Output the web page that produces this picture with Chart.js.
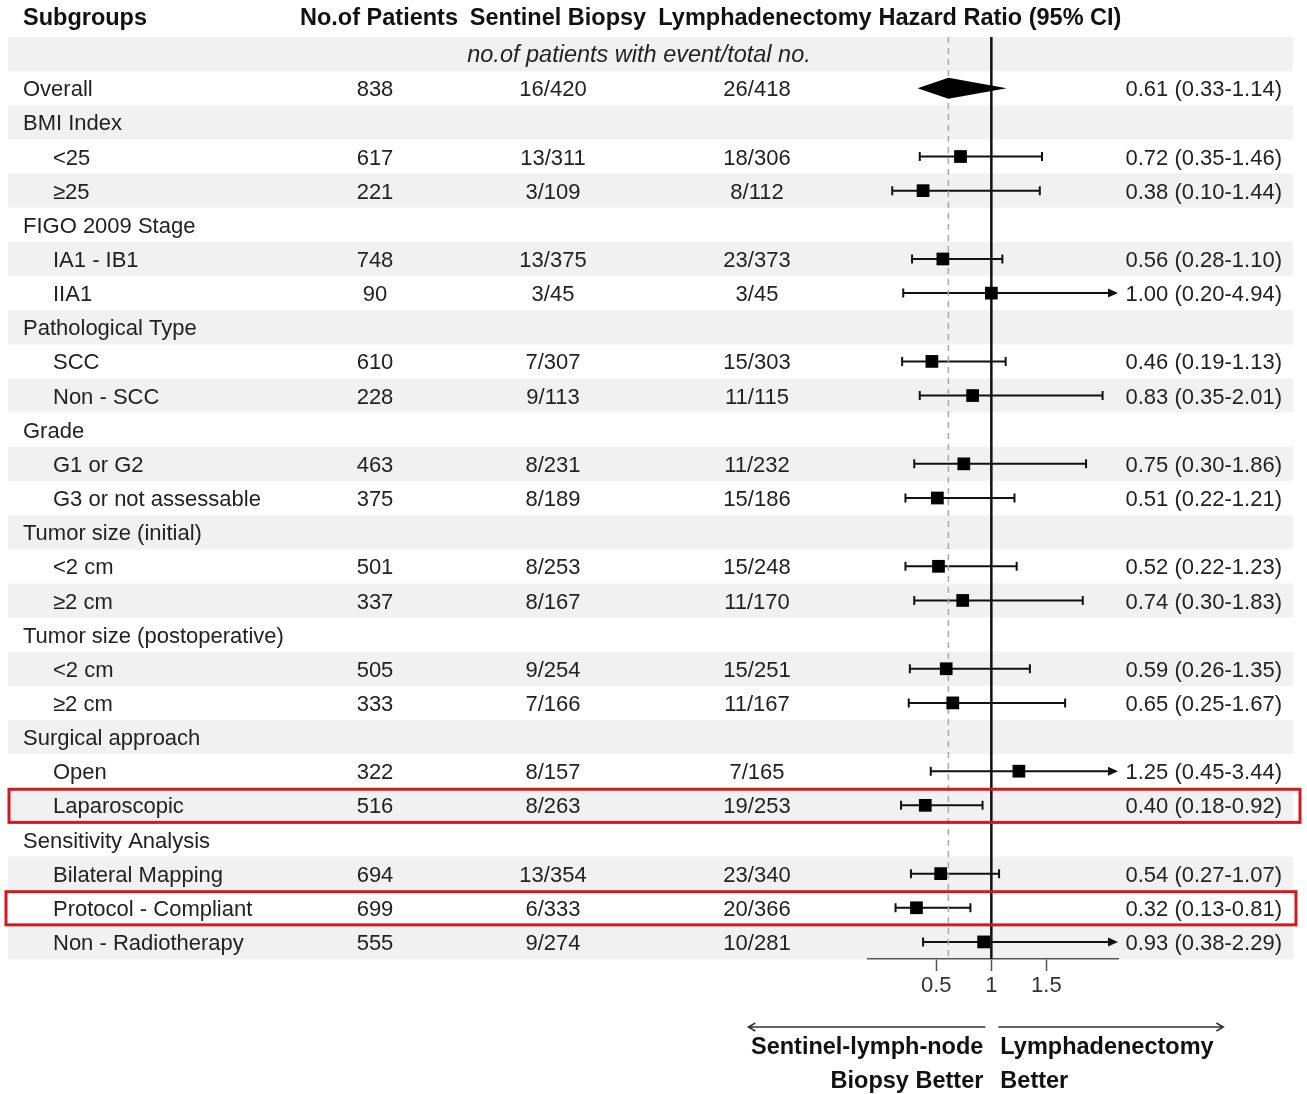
<!DOCTYPE html>
<html>
<head>
<meta charset="utf-8">
<script src="https://cdn.jsdelivr.net/npm/chart.js@4.4.1/dist/chart.umd.min.js"></script>
<style>
  html, body { margin: 0; padding: 0; background: #fff; }
  #wrap { width: 1307px; height: 1094px; }
</style>
</head>
<body>
<div id="wrap"><canvas id="forestChart" width="1307" height="1094"></canvas></div>
<script>
// table rows (row 0 of the plot is the "no.of patients..." line)
const subgroups = ["Overall", "BMI Index", "<25", "≥25", "FIGO 2009 Stage", "IA1 - IB1", "IIA1",
  "Pathological Type", "SCC", "Non - SCC", "Grade", "G1 or G2", "G3 or not assessable",
  "Tumor size (initial)", "<2 cm", "≥2 cm", "Tumor size (postoperative)", "<2 cm", "≥2 cm",
  "Surgical approach", "Open", "Laparoscopic", "Sensitivity Analysis", "Bilateral Mapping",
  "Protocol - Compliant", "Non - Radiotherapy"];
const indented = [0, 0, 1, 1, 0, 1, 1, 0, 1, 1, 0, 1, 1, 0, 1, 1, 0, 1, 1, 0, 1, 1, 0, 1, 1, 1];
const patients = [838, null, 617, 221, null, 748, 90, null, 610, 228, null, 463, 375, null, 501, 337,
  null, 505, 333, null, 322, 516, null, 694, 699, 555];
const sentinelEvents = ["16/420", null, "13/311", "3/109", null, "13/375", "3/45", null, "7/307", "9/113",
  null, "8/231", "8/189", null, "8/253", "8/167", null, "9/254", "7/166", null, "8/157", "8/263", null,
  "13/354", "6/333", "9/274"];
const lymphEvents = ["26/418", null, "18/306", "8/112", null, "23/373", "3/45", null, "15/303", "11/115",
  null, "11/232", "15/186", null, "15/248", "11/170", null, "15/251", "11/167", null, "7/165", "19/253", null,
  "23/340", "20/366", "10/281"];
const hazard = [0.61, null, 0.72, 0.38, null, 0.56, 1.00, null, 0.46, 0.83, null, 0.75, 0.51, null, 0.52, 0.74,
  null, 0.59, 0.65, null, 1.25, 0.40, null, 0.54, 0.32, 0.93];
const ciLow = [0.33, null, 0.35, 0.10, null, 0.28, 0.20, null, 0.19, 0.35, null, 0.30, 0.22, null, 0.22, 0.30,
  null, 0.26, 0.25, null, 0.45, 0.18, null, 0.27, 0.13, 0.38];
const ciHigh = [1.14, null, 1.46, 1.44, null, 1.10, 4.94, null, 1.13, 2.01, null, 1.86, 1.21, null, 1.23, 1.83,
  null, 1.35, 1.67, null, 3.44, 0.92, null, 1.07, 0.81, 2.29];
const xTicks = [0.5, 1, 1.5];
const highlighted = ["Laparoscopic", "Protocol - Compliant"];

const FONT = "'Liberation Sans', Arial, sans-serif";
const rowOf = (i) => i + 1;

const squarePoints = [];
hazard.forEach((v, i) => {
  if (v !== null && i > 0) squarePoints.push({ x: v, y: rowOf(i) });
});

const forestPlugin = {
  id: "forest",
  beforeDraw(chart) {
    const ctx = chart.ctx;
    const y = chart.scales.y;
    ctx.save();
    ctx.fillStyle = "#fff";
    ctx.fillRect(0, 0, chart.width, chart.height);
    ctx.fillStyle = "#f1f1f1";
    for (let r = 0; r <= subgroups.length; r += 2) {
      const y0 = y.getPixelForValue(r - 0.5);
      const y1 = y.getPixelForValue(r + 0.5);
      ctx.fillRect(8, y0, 1285, y1 - y0);
    }
    ctx.restore();
  },
  beforeDatasetsDraw(chart) {
    const ctx = chart.ctx;
    const xs = chart.scales.x, ys = chart.scales.y;
    ctx.save();
    ctx.strokeStyle = "#111";
    ctx.fillStyle = "#111";
    ctx.lineWidth = 2;
    hazard.forEach((v, i) => {
      if (v === null || i === 0) return;
      const py = ys.getPixelForValue(rowOf(i));
      const xl = xs.getPixelForValue(ciLow[i]);
      const clipped = ciHigh[i] > xs.max;
      const xr = xs.getPixelForValue(Math.min(ciHigh[i], xs.max));
      ctx.beginPath();
      ctx.moveTo(xl, py);
      ctx.lineTo(clipped ? xr - 6 : xr, py);
      ctx.moveTo(xl, py - 4.5);
      ctx.lineTo(xl, py + 4.5);
      if (!clipped) {
        ctx.moveTo(xr, py - 4.5);
        ctx.lineTo(xr, py + 4.5);
      }
      ctx.stroke();
      if (clipped) {
        ctx.beginPath();
        ctx.moveTo(xr, py);
        ctx.lineTo(xr - 10, py - 4.5);
        ctx.lineTo(xr - 10, py + 4.5);
        ctx.closePath();
        ctx.fill();
      }
    });
    ctx.restore();
  },
  afterDatasetsDraw(chart) {
    // overall estimate as diamond
    const ctx = chart.ctx;
    const xs = chart.scales.x, ys = chart.scales.y;
    const py = ys.getPixelForValue(rowOf(0));
    ctx.save();
    ctx.fillStyle = "#000";
    ctx.beginPath();
    ctx.moveTo(xs.getPixelForValue(ciLow[0]), py);
    ctx.lineTo(xs.getPixelForValue(hazard[0]), py - 10.5);
    ctx.lineTo(xs.getPixelForValue(ciHigh[0]), py);
    ctx.lineTo(xs.getPixelForValue(hazard[0]), py + 10.5);
    ctx.closePath();
    ctx.fill();
    ctx.restore();
  },
  afterDraw(chart) {
    const ctx = chart.ctx;
    const xs = chart.scales.x, ys = chart.scales.y;
    ctx.save();
    ctx.textBaseline = "middle";

    // header
    const hy = ys.getPixelForValue(-1) - 1;
    ctx.font = "bold 23.5px " + FONT;
    ctx.fillStyle = "#111";
    ctx.textAlign = "left";
    ctx.fillText("Subgroups", 23, hy);
    ctx.textAlign = "center";
    ctx.fillText("No.of Patients", 379, hy);
    ctx.fillText("Sentinel Biopsy", 558, hy);
    ctx.fillText("Lymphadenectomy", 765, hy);
    ctx.fillText("Hazard Ratio (95% CI)", 1000, hy);

    ctx.font = "italic 23.5px " + FONT;
    ctx.fillStyle = "#222";
    ctx.fillText("no.of patients with event/total no.", 639, ys.getPixelForValue(0) + 1);

    // table body
    ctx.font = "22px " + FONT;
    subgroups.forEach((label, i) => {
      const py = ys.getPixelForValue(rowOf(i)) + 2;
      ctx.textAlign = "left";
      ctx.fillText(label, indented[i] ? 53 : 23, py);
      ctx.textAlign = "center";
      if (patients[i] !== null) ctx.fillText(String(patients[i]), 375, py);
      if (sentinelEvents[i] !== null) ctx.fillText(sentinelEvents[i], 553, py);
      if (lymphEvents[i] !== null) ctx.fillText(lymphEvents[i], 757, py);
      if (hazard[i] !== null) {
        ctx.textAlign = "right";
        ctx.fillText(hazard[i].toFixed(2) + " (" + ciLow[i].toFixed(2) + "-" + ciHigh[i].toFixed(2) + ")", 1282, py);
      }
    });

    // highlight boxes
    ctx.strokeStyle = "#d11a1f";
    ctx.lineWidth = 3;
    highlighted.forEach((name, k) => {
      const i = subgroups.indexOf(name);
      const y0 = ys.getPixelForValue(rowOf(i) - 0.5);
      const y1 = ys.getPixelForValue(rowOf(i) + 0.5);
      const left = k === 0 ? 9 : 6;
      const right = k === 0 ? 1300 : 1296;
      ctx.strokeRect(left, y0 + 1, right - left, y1 - y0 - 1);
    });

    // direction arrows
    const x1 = xs.getPixelForValue(1);
    const ay = 1027;
    ctx.strokeStyle = "#333";
    ctx.lineWidth = 1.5;
    ctx.beginPath();
    ctx.moveTo(x1 - 6, ay);
    ctx.lineTo(x1 - 243, ay);
    ctx.moveTo(x1 - 236, ay - 4);
    ctx.lineTo(x1 - 243, ay);
    ctx.lineTo(x1 - 236, ay + 4);
    ctx.moveTo(x1 + 7, ay);
    ctx.lineTo(x1 + 232, ay);
    ctx.moveTo(x1 + 225, ay - 4);
    ctx.lineTo(x1 + 232, ay);
    ctx.lineTo(x1 + 225, ay + 4);
    ctx.stroke();

    ctx.font = "bold 23.5px " + FONT;
    ctx.fillStyle = "#111";
    ctx.textAlign = "right";
    ctx.fillText("Sentinel-lymph-node", x1 - 8, 1048);
    ctx.fillText("Biopsy Better", x1 - 8, 1082);
    ctx.textAlign = "left";
    ctx.fillText("Lymphadenectomy", x1 + 9, 1048);
    ctx.fillText("Better", x1 + 9, 1082);
    ctx.restore();
  }
};

new Chart(document.getElementById("forestChart").getContext("2d"), {
  type: "scatter",
  data: {
    datasets: [
      {
        label: "HR",
        data: squarePoints,
        pointStyle: "rect",
        pointRadius: 9,
        pointHoverRadius: 9,
        backgroundColor: "#000",
        borderWidth: 0,
        order: 0,
      },
      {
        label: "no effect",
        data: [{ x: 1, y: -0.5 }, { x: 1, y: subgroups.length + 0.5 }],
        showLine: true,
        borderColor: "#111",
        borderWidth: 2.5,
        pointRadius: 0,
        order: 1,
      },
      {
        label: "overall",
        data: [{ x: hazard[0], y: -0.5 }, { x: hazard[0], y: subgroups.length + 0.5 }],
        showLine: true,
        borderColor: "#a8a8a8",
        borderWidth: 1.5,
        borderDash: [6, 5],
        pointRadius: 0,
        order: 2,
      },
    ],
  },
  options: {
    responsive: false,
    animation: false,
    layout: { padding: { left: 868, right: 189, top: 37, bottom: 95 } },
    plugins: { legend: { display: false }, tooltip: { enabled: false } },
    scales: {
      x: {
        type: "linear",
        min: -0.12,
        max: 2.15,
        afterBuildTicks(scale) {
          scale.ticks = xTicks.map((v) => ({ value: v }));
        },
        afterFit(scale) {
          scale.height = 40;
        },
        grid: { drawOnChartArea: false, drawTicks: true, tickLength: 12, tickColor: "#555", tickWidth: 1.5 },
        border: { display: true, color: "#555", width: 1.5 },
        ticks: {
          color: "#333",
          font: { family: FONT, size: 22 },
          padding: 2,
          callback: (v) => String(v),
        },
      },
      y: {
        type: "linear",
        display: false,
        reverse: true,
        min: -0.5,
        max: subgroups.length + 0.5,
      },
    },
  },
  plugins: [forestPlugin],
});
</script>
</body>
</html>
